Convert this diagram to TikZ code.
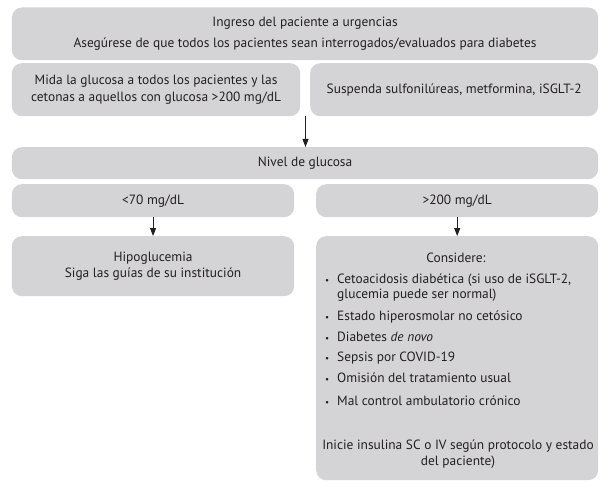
\documentclass[tikz,border=0pt]{standalone}
\usepackage{fontspec}
\setmainfont{PT Sans}
\usetikzlibrary{arrows.meta}
\definecolor{boxgray}{RGB}{212,212,214}
\definecolor{ink}{RGB}{35,31,32}
\begin{document}
\begin{tikzpicture}[x=1pt,y=-1pt,
  every node/.style={text=ink, font=\fontsize{13.4}{15}\selectfont},
  box/.style={fill=boxgray, rounded corners=10pt, inner sep=0pt, align=center, anchor=north west},
  item/.style={anchor=mid west, inner sep=0pt},
  arr/.style={draw=ink, line width=0.9pt, -{Triangle[width=6pt,length=8pt]}}]
\useasboundingbox (0,0) rectangle (609,497);

\node[box, minimum width=586.3pt, minimum height=52.7pt] (top) at (11.7,7.3)
  {Ingreso del paciente a urgencias\\[6pt]Asegúrese de que todos los pacientes sean interrogados/evaluados para diabetes};
\node[box, minimum width=288.3pt, minimum height=53pt] (mida) at (11.7,63)
  {Mida la glucosa a todos los pacientes y las\\[2pt]cetonas a aquellos con glucosa >200 mg/dL};
\node[box, minimum width=288pt, minimum height=53pt] (susp) at (310,63)
  {Suspenda sulfonilúreas, metformina, iSGLT-2};
\node[box, minimum width=586.3pt, minimum height=32pt] (nivel) at (11.7,147)
  {Nivel de glucosa};
\node[box, minimum width=282.3pt, minimum height=33pt] (low) at (11.7,184) {<70 mg/dL};
\node[box, minimum width=282pt, minimum height=33pt] (high) at (316,184) {>200 mg/dL};
\node[box, minimum width=282.3pt, minimum height=60pt] (hipo) at (11.7,236)
  {Hipoglucemia\\[1pt]Siga las guías de su institución};
\node[box, minimum width=282pt, minimum height=244pt] (cons) at (316,236) {};

\node[inner sep=0pt, anchor=mid] (ctitle) at (456,260) {Considere:};
\node[item] (i1) at (325,281) {\makebox[12pt][l]{\small•}Cetoacidosis diabética (si uso de iSGLT-2,};
\node[item] (i1b) at (337,296) {glucemia puede ser normal)};
\node[item] (i2) at (325,318) {\makebox[12pt][l]{\small•}Estado hiperosmolar no cetósico};
\node[item] (i3) at (325,339) {\makebox[12pt][l]{\small•}Diabetes \textit{de novo}};
\node[item] (i4) at (325,359) {\makebox[12pt][l]{\small•}Sepsis por COVID-19};
\node[item] (i5) at (325,380) {\makebox[12pt][l]{\small•}Omisión del tratamiento usual};
\node[item] (i6) at (325,403) {\makebox[12pt][l]{\small•}Mal control ambulatorio crónico};
\node[inner sep=0pt, anchor=mid] (ini1) at (458,447) {Inicie insulina SC o IV según protocolo y estado};
\node[inner sep=0pt, anchor=mid] (ini2) at (458,463) {del paciente)};

\coordinate (split) at (305.5,116);
\draw[arr] (split) -- (split |- nivel.north);
\draw[arr] (low.south) -- (hipo.north -| low.south);
\draw[arr] (high.south) -- (cons.north -| high.south);
\end{tikzpicture}
\end{document}
